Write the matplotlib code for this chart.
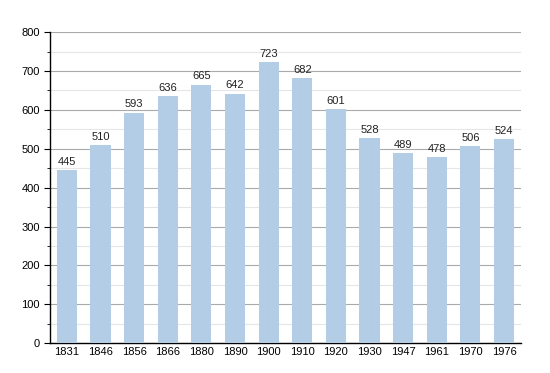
import matplotlib.pyplot as plt
from matplotlib.ticker import MultipleLocator

years = ['1831', '1846', '1856', '1866', '1880', '1890', '1900',
         '1910', '1920', '1930', '1947', '1961', '1970', '1976']
population = [445, 510, 593, 636, 665, 642, 723, 682, 601, 528, 489, 478, 506, 524]

plt.rcParams['font.family'] = ['Liberation Sans', 'DejaVu Sans']

fig = plt.figure(figsize=(5.5, 3.73), dpi=100)
ax = fig.add_axes([0.091, 0.080, 0.856, 0.834])

x = list(range(len(years)))
ax.bar(x, population, width=0.6, color='#b3cde6', zorder=3)
for xi, v in zip(x, population):
    ax.text(xi, v + 8, str(v), ha='center', va='bottom', fontsize=8, color='#222222', zorder=4)

ax.set_xlim(-0.5, len(years) - 0.5)
ax.set_ylim(0, 800)
ax.set_xticks(x)
ax.set_xticklabels(years)
ax.yaxis.set_major_locator(MultipleLocator(100))
ax.yaxis.set_minor_locator(MultipleLocator(50))
ax.grid(axis='y', which='major', color='#aaaaaa', linewidth=0.8, zorder=0)
ax.grid(axis='y', which='minor', color='#e6e6e6', linewidth=0.8, zorder=0)

for s in ['top', 'right']:
    ax.spines[s].set_visible(False)
ax.spines['left'].set_linewidth(1.0)
ax.spines['bottom'].set_linewidth(1.0)
ax.tick_params(axis='x', length=0, labelsize=8, pad=3)
ax.tick_params(axis='y', which='major', length=4, labelsize=8)
ax.tick_params(axis='y', which='minor', length=2)

fig.savefig('out.png', dpi=100)
